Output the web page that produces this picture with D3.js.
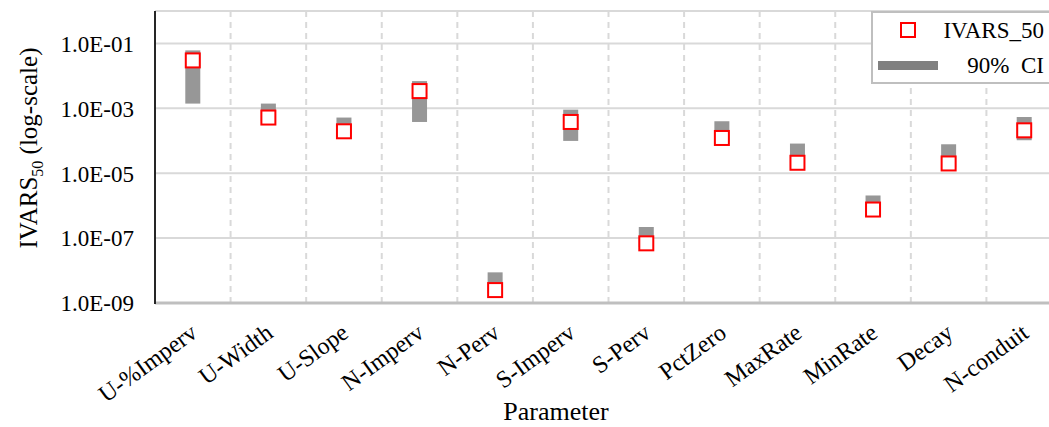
<!DOCTYPE html>
<html>
<head>
<meta charset="utf-8">
<script src="https://cdn.jsdelivr.net/npm/d3@7"></script>
<style>
  body { margin: 0; background: #fff; }
  svg { display: block; font-family: "Liberation Serif", "Times New Roman", serif; }
</style>
</head>
<body>
<svg width="1049" height="427"></svg>
<script>
// parameters on the x axis
var params = ["U-%Imperv", "U-Width", "U-Slope", "N-Imperv", "N-Perv", "S-Imperv",
              "S-Perv", "PctZero", "MaxRate", "MinRate", "Decay", "N-conduit"];
// IVARS_50 estimates
var ivars50 = [3.0e-2, 5.2e-4, 1.96e-4, 3.4e-3, 2.5e-9, 3.8e-4,
               6.9e-8, 1.22e-4, 2.1e-5, 7.6e-7, 2.0e-5, 2.1e-4];
// 90% confidence interval bounds
var ciLow  = [1.4e-3, 4.0e-4, 1.6e-4, 3.8e-4, 2.0e-9, 9.9e-5,
              5.3e-8, 9.7e-5, 1.6e-5, 5.9e-7, 1.5e-5, 1.04e-4];
var ciHigh = [6.1e-2, 1.4e-3, 5.2e-4, 6.9e-3, 8.8e-9, 9.1e-4,
              2.2e-7, 4.0e-4, 8.2e-5, 2.06e-6, 7.8e-5, 5.4e-4];
var yTicks = [1e-9, 1e-7, 1e-5, 1e-3, 1e-1];

var svg = d3.select("svg");
var pLeft = 155, pRight = 1062, pTop = 11, pBottom = 303;

var x = d3.scaleBand().domain(params).range([pLeft, pRight]);
var y = d3.scaleLog().domain([1e-9, 1]).range([pBottom, pTop]);
var bw = x.bandwidth();

// horizontal gridlines (plus top border)
svg.append("g").selectAll("line")
    .data(yTicks.slice(1).concat([1]))
    .enter().append("line")
    .attr("x1", pLeft).attr("x2", pRight)
    .attr("y1", function(d) { return y(d); })
    .attr("y2", function(d) { return y(d); })
    .style("stroke", "#d9d9d9")
    .style("stroke-width", 2);

// dashed vertical gridlines between categories
svg.append("g").selectAll("line")
    .data(params.slice(1))
    .enter().append("line")
    .attr("x1", function(d) { return x(d); })
    .attr("x2", function(d) { return x(d); })
    .attr("y1", pTop).attr("y2", pBottom)
    .style("stroke", "#d9d9d9")
    .style("stroke-width", 2)
    .style("stroke-dasharray", "6,5");

// bottom axis line
svg.append("line")
    .attr("x1", pLeft).attr("x2", pRight)
    .attr("y1", pBottom).attr("y2", pBottom)
    .style("stroke", "#bfbfbf")
    .style("stroke-width", 3);

// left axis line
svg.append("line")
    .attr("x1", pLeft).attr("x2", pLeft)
    .attr("y1", pTop).attr("y2", pBottom + 1)
    .style("stroke", "#262626")
    .style("stroke-width", 2);

// y tick labels
var fmt = function(d) {
    var e = Math.round(Math.log10(d));
    return "1.0E" + (e < 0 ? "-" : "+") + d3.format("02d")(Math.abs(e));
};
svg.append("g").selectAll("text")
    .data(yTicks)
    .enter().append("text")
    .attr("x", 134)
    .attr("y", function(d) { return y(d); })
    .attr("dy", "0.36em")
    .attr("text-anchor", "end")
    .style("font-size", "23px")
    .style("fill", "#000")
    .text(fmt);

// x tick labels
svg.append("g").selectAll("text")
    .data(params)
    .enter().append("text")
    .attr("transform", function(d) {
        return "translate(" + (x(d) + bw / 2 + 6) + ",336) rotate(-36)";
    })
    .attr("text-anchor", "end")
    .style("font-size", "24px")
    .text(function(d) { return d; });

// CI bars
svg.append("g").selectAll("rect")
    .data(params)
    .enter().append("rect")
    .attr("x", function(d) { return x(d) + bw / 2 - 7.5; })
    .attr("width", 15)
    .attr("y", function(d, i) { return y(ciHigh[i]); })
    .attr("height", function(d, i) { return y(ciLow[i]) - y(ciHigh[i]); })
    .style("fill", "#979797");

// IVARS markers
svg.append("g").selectAll("rect")
    .data(params)
    .enter().append("rect")
    .attr("x", function(d) { return x(d) + bw / 2 - 7; })
    .attr("y", function(d, i) { return y(ivars50[i]) - 7; })
    .attr("width", 14).attr("height", 14)
    .style("fill", "#fff")
    .style("stroke", "#ff0000")
    .style("stroke-width", 2);

// axis titles
var yt = svg.append("text")
    .attr("transform", "translate(37,148) rotate(-90)")
    .attr("text-anchor", "middle")
    .style("font-size", "25px");
yt.append("tspan").text("IVARS");
yt.append("tspan").attr("dy", 6).style("font-size", "16px").text("50");
yt.append("tspan").attr("dy", -6).text(" (log-scale)");

svg.append("text")
    .attr("x", 556).attr("y", 420)
    .attr("text-anchor", "middle")
    .style("font-size", "26px")
    .text("Parameter");

// legend
var lg = svg.append("g");
lg.append("rect")
    .attr("x", 872).attr("y", 12)
    .attr("width", 200).attr("height", 71)
    .style("fill", "#fff")
    .style("stroke", "#bfbfbf")
    .style("stroke-width", 2);
lg.append("rect")
    .attr("x", 901).attr("y", 23)
    .attr("width", 14).attr("height", 14)
    .style("fill", "#fff")
    .style("stroke", "#ff0000")
    .style("stroke-width", 2);
lg.append("rect")
    .attr("x", 878).attr("y", 61)
    .attr("width", 60).attr("height", 9)
    .style("fill", "#808080");
lg.append("text")
    .attr("x", 1044).attr("y", 38)
    .attr("text-anchor", "end")
    .style("font-size", "23px")
    .text("IVARS_50");
lg.append("text")
    .attr("x", 1044).attr("y", 73)
    .attr("text-anchor", "end")
    .style("font-size", "23px")
    .style("white-space", "pre")
    .attr("xml:space", "preserve")
    .text("90%  CI");
</script>
</body>
</html>
